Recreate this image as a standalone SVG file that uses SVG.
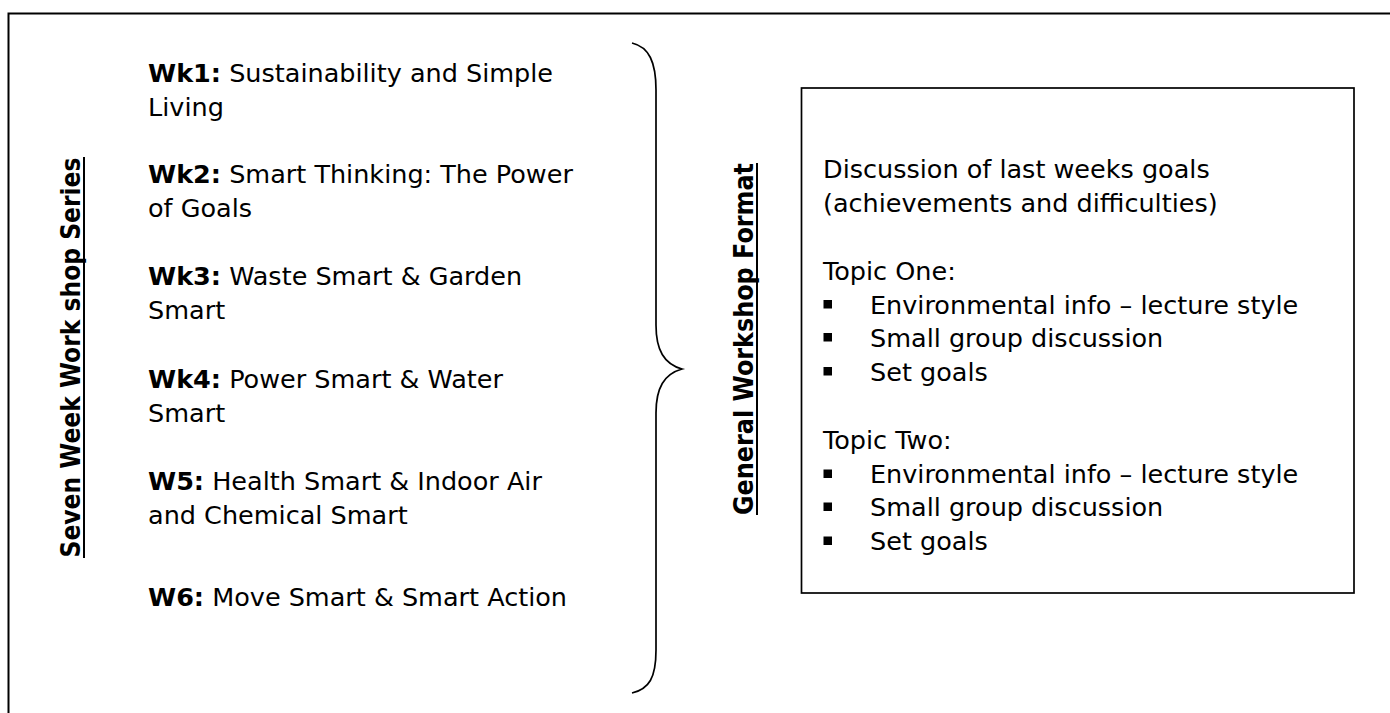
<svg xmlns="http://www.w3.org/2000/svg" width="1390" height="713" viewBox="0 0 1390 713">
<style>
  .t { font-family: "DejaVu Sans", "Liberation Sans", sans-serif; font-size: 25.5px; fill: #000; }
  .b { font-weight: bold; }
  .lab { font-family: "DejaVu Sans", "Liberation Sans", sans-serif; font-size: 27px; font-weight: bold; fill: #000; }
  .ln { stroke: #000; fill: none; }
  .bul { fill: #000; }
</style>
<rect width="1390" height="713" fill="#fff"/>
<g id="frame">
  <path class="ln" stroke-width="2" d="M8.5,713 L8.5,13.5 L1390,13.5"/>
</g>
<g id="series-label">
  <text class="lab" transform="translate(80,357.5) rotate(-90)" text-anchor="middle" textLength="400" lengthAdjust="spacingAndGlyphs">Seven Week Work shop Series</text>
  <line class="ln" stroke-width="2" x1="84" y1="157" x2="84" y2="558"/>
</g>
<g id="weeks">
  <text class="t" x="148" y="82"><tspan class="b">Wk1:</tspan> Sustainability and Simple</text>
  <text class="t" x="148" y="116">Living</text>
  <text class="t" x="148" y="183"><tspan class="b">Wk2:</tspan> Smart Thinking: The Power</text>
  <text class="t" x="148" y="217">of Goals</text>
  <text class="t" x="148" y="285"><tspan class="b">Wk3:</tspan> Waste Smart &amp; Garden</text>
  <text class="t" x="148" y="319">Smart</text>
  <text class="t" x="148" y="388"><tspan class="b">Wk4:</tspan> Power Smart &amp; Water</text>
  <text class="t" x="148" y="422">Smart</text>
  <text class="t" x="148" y="490"><tspan class="b">W5:</tspan> Health Smart &amp; Indoor Air</text>
  <text class="t" x="148" y="524">and Chemical Smart</text>
  <text class="t" x="148" y="606"><tspan class="b">W6:</tspan> Move Smart &amp; Smart Action</text>
</g>
<g id="connectors">
  <path id="brace" class="ln" stroke-width="1.7" d="M632,43 C649,47 656,62 656,90 L656,325 C656,350 664,364 682,369 C664,374 656,388 656,413 L656,650 C656,678 649,689 632,693"/>
</g>
<g id="format-label">
  <text class="lab" transform="translate(753,339) rotate(-90)" text-anchor="middle" textLength="352" lengthAdjust="spacingAndGlyphs">General Workshop Format</text>
  <line class="ln" stroke-width="2" x1="757" y1="163" x2="757" y2="515"/>
</g>
<g id="format-box">
  <rect class="ln" stroke-width="1.7" x="801.5" y="88" width="552.5" height="505"/>
  <text class="t" x="823" y="178">Discussion of last weeks goals</text>
  <text class="t" x="823" y="212">(achievements and difficulties)</text>
  <text class="t" x="823" y="280">Topic One:</text>
  <rect class="bul" x="823.5" y="300" width="8.5" height="8.5"/>
  <text class="t" x="870" y="314">Environmental info – lecture style</text>
  <rect class="bul" x="823.5" y="333" width="8.5" height="8.5"/>
  <text class="t" x="870" y="347">Small group discussion</text>
  <rect class="bul" x="823.5" y="367" width="8.5" height="8.5"/>
  <text class="t" x="870" y="381">Set goals</text>
  <text class="t" x="823" y="449">Topic Two:</text>
  <rect class="bul" x="823.5" y="469.5" width="8.5" height="8.5"/>
  <text class="t" x="870" y="483">Environmental info – lecture style</text>
  <rect class="bul" x="823.5" y="502.5" width="8.5" height="8.5"/>
  <text class="t" x="870" y="516">Small group discussion</text>
  <rect class="bul" x="823.5" y="536.5" width="8.5" height="8.5"/>
  <text class="t" x="870" y="550">Set goals</text>
</g>
</svg>
